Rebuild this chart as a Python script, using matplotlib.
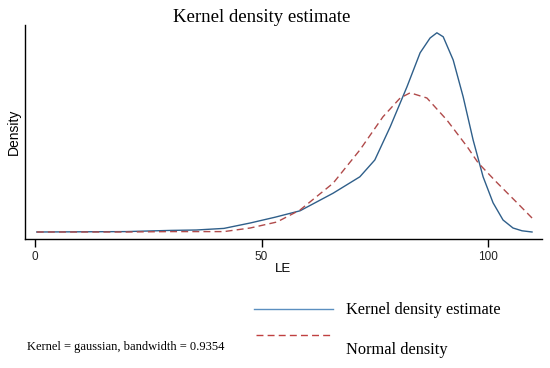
import matplotlib
matplotlib.use('Agg')
import matplotlib.pyplot as plt
from matplotlib.lines import Line2D

# values
kdeX = [0.4, 20, 30, 35.6, 41.7, 47.5, 53, 58.5, 65.8, 71.7, 75, 78.4, 82.1, 85, 87.2,
        88.7, 90.1, 92.3, 94.5, 96.7, 98.9, 101.1, 103.3, 105.5, 107.5, 109.7]
kdeY = [0.0, 0.0001, 0.0004, 0.0005, 0.0009, 0.00225, 0.0037, 0.0053, 0.0097, 0.0138,
        0.0180, 0.0263, 0.0363, 0.0448, 0.0485, 0.0498, 0.0488, 0.0430, 0.0338, 0.0230,
        0.0138, 0.0073, 0.0030, 0.0010, 0.0003, 0.0]
normX = [0.4, 20, 30, 41.7, 47.5, 53.4, 58.5, 65.8, 71.7, 76.8, 80.6, 82.8, 86.5, 90.9,
         95.4, 97.8, 102, 106.4, 109.7]
normY = [0.0, 0.0, 0.0001, 0.0001, 0.001, 0.0025, 0.0055, 0.0122, 0.0205, 0.0288,
         0.0335, 0.0348, 0.0335, 0.0280, 0.0213, 0.0173, 0.0123, 0.0073, 0.0035]
xTicks = [0, 50, 100]

kdeColor = '#2f5f8a'
normColor = '#b04a4a'

figureWidth = 5.5
figureHeight = 3.68
fig = plt.figure(figsize=(figureWidth, figureHeight), dpi=100)

#                left, bottom, width, height
panel1 = plt.axes([25/550, 1-239/368, 517/550, 214/368])
panel1.plot(kdeX, kdeY, color=kdeColor, lw=1.0)
panel1.plot(normX, normY, color=normColor, lw=1.0, linestyle=(0, (5, 3)))

panel1.set_xlim(-2.2, 111.9)
panel1.set_ylim(-0.00175, 0.05175)
panel1.spines['top'].set_visible(False)
panel1.spines['right'].set_visible(False)
panel1.spines['left'].set_linewidth(1.0)
panel1.spines['bottom'].set_linewidth(1.0)
panel1.set_yticks([])
panel1.set_xticks(xTicks)
panel1.set_xticklabels([str(t) for t in xTicks], family='Liberation Sans', fontsize=8.5, color='#222222')
panel1.tick_params(axis='x', length=6, width=1.0, pad=3)
panel1.set_xlabel('LE', family='Liberation Sans', fontsize=9.5, labelpad=0)
panel1.set_ylabel('Density', family='Liberation Sans', fontsize=10, labelpad=3)

fig.text(262/550, 1-18/368, 'Kernel density estimate', family='Liberation Serif',
         fontsize=13.5, ha='center', va='center')

# legend drawn by hand in figure coords
fig.add_artist(Line2D([254/550, 333/550], [1-309/368, 1-309/368], color='#5b8fc0', lw=1.0))
fig.add_artist(Line2D([256/550, 330/550], [1-335/368, 1-335/368], color='#c04040', lw=1.0,
                      linestyle=(0, (5, 3))))
fig.text(346/550, 1-310/368, 'Kernel density estimate', family='Liberation Serif',
         fontsize=11.8, ha='left', va='center')
fig.text(346/550, 1-350/368, 'Normal density', family='Liberation Serif',
         fontsize=11.8, ha='left', va='center')
fig.text(27/550, 1-347/368, 'Kernel = gaussian, bandwidth = 0.9354', family='Liberation Serif',
         fontsize=9, ha='left', va='center')

plt.savefig('out.png', dpi=100)
